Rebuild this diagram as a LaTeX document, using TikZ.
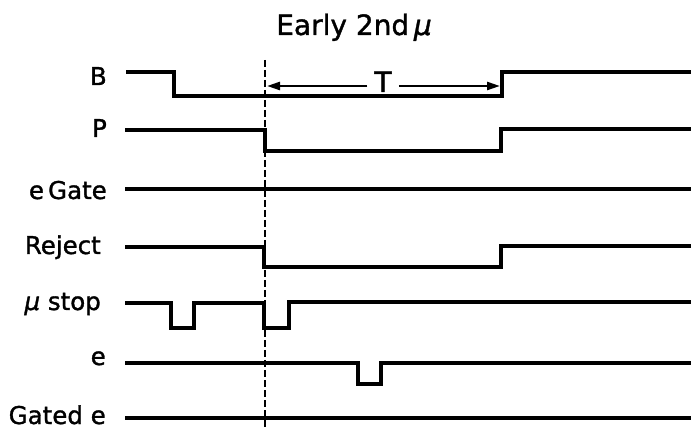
\documentclass[tikz,border=0pt]{standalone}
\usepackage{fontspec}
\setmainfont{DejaVu Sans}[FakeBold=1.3]
\usetikzlibrary{arrows.meta}
\begin{document}
\begin{tikzpicture}[x=1pt,y=-1pt,
  trace/.style={line width=3.2pt, line join=miter, line cap=butt},
  marker/.style={line width=1.5pt, dash pattern=on 7pt off 3pt},
  dimline/.style={line width=2.4pt, -{Triangle[length=13pt,width=8pt]}},
  sig/.style={anchor=base east, font=\fontsize{24.5}{28}\selectfont, inner sep=0pt},
  big/.style={anchor=base, font=\fontsize{28}{32}\selectfont, inner sep=0pt}]
\useasboundingbox (0,0) rectangle (691,430);

% title
\node[big] (title) at (354,35) {Early 2nd\,{\itshape μ}};

% signal labels
\node[sig] (lB) at (107,85) {B};
\node[sig] (lP) at (107,137) {P};
\node[sig] (lG) at (107,199) {e\,Gate};
\node[sig] (lR) at (101,254) {Reject};
\node[sig] (lM) at (101,310) {{\itshape μ} stop};
\node[sig] (lE) at (106,365) {e};
\node[sig] (lGE) at (106,424) {Gated e};

% traces
\draw[trace] (126,72) -- (174,72) -- (174,96) -- (502,96) -- (502,72) -- (691,72);
\draw[trace] (125,130) -- (265,130) -- (265,151) -- (501,151) -- (501,129) -- (691,129);
\draw[trace] (125,189) -- (691,189);
\draw[trace] (125,247) -- (264,247) -- (264,267) -- (501,267) -- (501,246) -- (691,246);
\draw[trace] (125,303) -- (171,303) -- (171,328) -- (194,328) -- (194,303) -- (264,303)
  -- (264,328) -- (289,328) -- (289,302) -- (691,302);
\draw[trace] (125,363) -- (358,363) -- (358,384) -- (381,384) -- (381,363) -- (691,363);
\draw[trace] (125,418) -- (691,418);

% marker line
\coordinate (mTop) at (265,60);
\coordinate (mBot) at (265,430);
\draw[marker] (mTop) -- (mBot);

% interval T
\coordinate (tL) at (267,86);
\coordinate (tR) at (500,86);
\node[big, inner xsep=7pt] (T) at (383,92) {T};
\draw[dimline] (T.west |- tL) -- (tL);
\draw[dimline] (T.east |- tR) -- (tR);
\end{tikzpicture}
\end{document}
